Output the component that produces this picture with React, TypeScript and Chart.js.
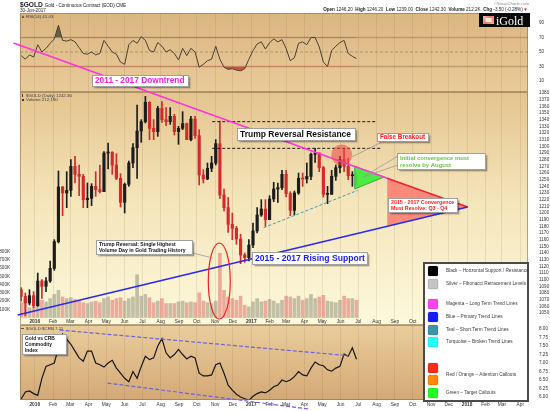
import React, { useEffect, useRef } from 'react';
import { Chart, registerables } from 'chart.js';

Chart.register(...registerables);

// ---------- DATA ----------
const weeks = [
  '2015-12-07', '2015-12-14', '2015-12-21', '2015-12-28',
  '2016-01-04', '2016-01-11', '2016-01-18', '2016-01-25',
  '2016-02-01', '2016-02-08', '2016-02-15', '2016-02-22', '2016-02-29',
  '2016-03-07', '2016-03-14', '2016-03-21', '2016-03-28',
  '2016-04-04', '2016-04-11', '2016-04-18', '2016-04-25',
  '2016-05-02', '2016-05-09', '2016-05-16', '2016-05-23', '2016-05-30',
  '2016-06-06', '2016-06-13', '2016-06-20', '2016-06-27',
  '2016-07-04', '2016-07-11', '2016-07-18', '2016-07-25',
  '2016-08-01', '2016-08-08', '2016-08-15', '2016-08-22', '2016-08-29',
  '2016-09-05', '2016-09-12', '2016-09-19', '2016-09-26',
  '2016-10-03', '2016-10-10', '2016-10-17', '2016-10-24', '2016-10-31',
  '2016-11-07', '2016-11-14', '2016-11-21', '2016-11-28',
  '2016-12-05', '2016-12-12', '2016-12-19', '2016-12-26',
  '2017-01-02', '2017-01-09', '2017-01-16', '2017-01-23', '2017-01-30',
  '2017-02-06', '2017-02-13', '2017-02-20', '2017-02-27',
  '2017-03-06', '2017-03-13', '2017-03-20', '2017-03-27',
  '2017-04-03', '2017-04-10', '2017-04-17', '2017-04-24',
  '2017-05-01', '2017-05-08', '2017-05-15', '2017-05-22', '2017-05-29',
  '2017-06-05', '2017-06-12', '2017-06-19', '2017-06-26',
];

const priceOpen = [
  1085, 1075, 1065, 1076,
  1061, 1098, 1090, 1098,
  1117, 1157, 1239, 1230, 1234,
  1270, 1258, 1255, 1220,
  1222, 1240, 1235, 1232,
  1290, 1291, 1272, 1252, 1216,
  1243, 1275, 1298, 1323,
  1337, 1366, 1327, 1322,
  1357, 1340, 1337, 1345, 1322,
  1327, 1334, 1310, 1341,
  1316, 1257, 1251, 1267, 1275,
  1304, 1227, 1208, 1183,
  1177, 1161, 1137, 1133,
  1152, 1173, 1197, 1206, 1190,
  1221, 1236, 1238, 1258,
  1229, 1204, 1230, 1252,
  1251, 1255, 1288, 1290,
  1268, 1228, 1228, 1255, 1268,
  1280, 1270, 1256, 1257,
];
const priceHigh = [
  1088, 1080, 1085, 1082,
  1110, 1100, 1103, 1128,
  1160, 1263, 1240, 1262, 1280,
  1285, 1272, 1258, 1245,
  1244, 1262, 1272, 1292,
  1305, 1292, 1289, 1259, 1245,
  1278, 1304, 1362, 1340,
  1375, 1367, 1340, 1360,
  1367, 1358, 1358, 1348, 1330,
  1352, 1335, 1345, 1345,
  1325, 1265, 1275, 1285, 1310,
  1338, 1236, 1223, 1200,
  1180, 1168, 1140, 1160,
  1185, 1208, 1220, 1220, 1226,
  1246, 1245, 1264, 1264,
  1232, 1233, 1260, 1260,
  1275, 1290, 1297, 1290,
  1270, 1240, 1264, 1272, 1285,
  1297, 1282, 1262, 1260,
];
const priceLow = [
  1068, 1046, 1062, 1058,
  1060, 1072, 1082, 1096,
  1114, 1155, 1196, 1208, 1225,
  1245, 1226, 1208, 1208,
  1211, 1225, 1230, 1232,
  1266, 1258, 1250, 1209, 1200,
  1240, 1268, 1252, 1306,
  1335, 1310, 1310, 1315,
  1336, 1331, 1333, 1317, 1303,
  1325, 1310, 1308, 1312,
  1242, 1245, 1250, 1262, 1272,
  1222, 1203, 1171, 1160,
  1153, 1124, 1126, 1128,
  1148, 1170, 1195, 1180, 1190,
  1217, 1216, 1235, 1224,
  1196, 1197, 1228, 1240,
  1245, 1250, 1276, 1262,
  1224, 1214, 1228, 1249, 1260,
  1262, 1250, 1240, 1239,
];
const priceClose = [
  1075, 1065, 1076, 1061,
  1098, 1090, 1098, 1117,
  1157, 1239, 1230, 1234, 1270,
  1258, 1255, 1220, 1222,
  1240, 1235, 1232, 1290,
  1291, 1272, 1252, 1216, 1243,
  1275, 1298, 1323, 1337,
  1366, 1327, 1322, 1357,
  1340, 1337, 1345, 1322, 1327,
  1334, 1310, 1341, 1316,
  1257, 1251, 1267, 1275, 1304,
  1227, 1208, 1183, 1177,
  1161, 1137, 1133, 1152,
  1173, 1197, 1206, 1190, 1221,
  1236, 1238, 1258, 1229,
  1204, 1230, 1252, 1251,
  1255, 1288, 1290, 1268,
  1228, 1228, 1255, 1268, 1280,
  1270, 1256, 1257, 1242,
];
// average daily volume, thousands of contracts
const volumeK = [
  180, 220, 120, 130,
  200, 210, 190, 230,
  280, 330, 250, 230, 240,
  220, 200, 180, 170,
  190, 200, 180, 230,
  250, 210, 230, 240, 200,
  230, 250, 520, 260,
  280, 240, 180, 200,
  230, 170, 170, 170, 190,
  200, 180, 190, 180,
  300, 200, 180, 170, 200,
  780, 330, 250, 230,
  210, 260, 150, 130,
  190, 230, 190, 200, 220,
  200, 170, 210, 260,
  250, 230, 260, 210,
  230, 280, 230, 250,
  270, 200, 190, 180, 210,
  260, 230, 230, 210,
];
const rsi14 = [
  45, 40, 46, 43,
  60, 50, 55, 62,
  68, 87, 66, 65, 67,
  64, 56, 48, 47,
  50, 46, 48, 66,
  58, 50, 47, 36, 33,
  60, 66, 62, 71,
  66, 52, 50, 63,
  58, 50, 53, 48, 39,
  55, 45, 55, 50,
  29, 33, 38, 40, 58,
  40, 29, 26, 27,
  25, 24, 27, 40,
  52, 61, 64, 54, 63,
  68, 64, 67, 55,
  38, 42, 62, 64,
  60, 70, 70, 57,
  36, 30, 52, 58, 63,
  66, 48, 44, 41,
];
const goldCrbRatio = [
  5.94, 6.15, 6.18, 6.10,
  6.05, 6.55, 6.90, 6.95,
  7.00, 7.45, 7.85, 7.70, 7.55,
  7.35, 7.15, 7.05, 7.35,
  7.35, 7.00, 6.95, 6.88,
  7.00, 7.08, 6.85, 6.70, 6.55,
  6.45, 6.75, 6.55, 6.90,
  7.20, 7.10, 7.15, 7.50,
  7.72, 7.30, 7.15, 7.25, 7.40,
  7.25, 7.12, 7.20, 7.15,
  6.70, 6.62, 6.62, 6.65, 6.95,
  7.00, 6.70, 6.35, 6.20,
  6.08, 6.00, 5.95, 5.90,
  6.02, 6.10, 6.15, 6.12, 6.20,
  6.30, 6.35, 6.50, 6.45,
  6.50, 6.60, 6.75, 6.65,
  6.62, 6.85, 7.03, 6.95,
  6.92, 6.80, 6.76, 6.85, 6.90,
  7.26, 7.20, 7.45, 7.11,
];

const monthTicks = [
  '2016-01-01', '2016-02-01', '2016-03-01', '2016-04-01', '2016-05-01', '2016-06-01',
  '2016-07-01', '2016-08-01', '2016-09-01', '2016-10-01', '2016-11-01', '2016-12-01',
  '2017-01-01', '2017-02-01', '2017-03-01', '2017-04-01', '2017-05-01', '2017-06-01',
  '2017-07-01', '2017-08-01', '2017-09-01', '2017-10-01', '2017-11-01', '2017-12-01',
  '2018-01-01', '2018-02-01', '2018-03-01', '2018-04-01',
];
const monthLabels = [
  '2016', 'Feb', 'Mar', 'Apr', 'May', 'Jun', 'Jul', 'Aug', 'Sep', 'Oct', 'Nov', 'Dec',
  '2017', 'Feb', 'Mar', 'Apr', 'May', 'Jun', 'Jul', 'Aug', 'Sep', 'Oct', 'Nov', 'Dec',
  '2018', 'Feb', 'Mar', 'Apr',
];
const rsiTicks = [90, 70, 50, 30, 10];
const priceTicks = [
  1380, 1370, 1360, 1350, 1340, 1330, 1320, 1310, 1300, 1290, 1280, 1270, 1260, 1250,
  1240, 1230, 1220, 1210, 1200, 1190, 1180, 1170, 1160, 1150, 1140, 1130, 1120, 1110,
  1100, 1090, 1080, 1070, 1060, 1050,
];
const volTicks = [100, 200, 300, 400, 500, 600, 700, 800];
const volTickLabels = ['100K', '200K', '300K', '400K', '500K', '600K', '700K', '800K'];
const ratioTicks = [8.0, 7.75, 7.5, 7.25, 7.0, 6.75, 6.5, 6.25, 6.0];
const ratioTickLabels = ['8.00', '7.75', '7.50', '7.25', '7.00', '6.75', '6.50', '6.25', '6.00'];

// ---------- ANNOTATIONS (date, value) ----------
const downtrendLine: [string, number][] = [['2015-11-26', 1455], ['2017-08-19', 1252]];
const convergenceTop: [string, number][] = [['2017-08-19', 1252], ['2018-01-02', 1209]];
const risingSupport: [string, number][] = [['2015-12-03', 1047], ['2018-01-02', 1209]];
const shortTermTrend: [string, number][] = [['2017-01-22', 1178], ['2017-06-30', 1234]];
const resistanceLines = [
  { from: '2016-10-27', to: '2017-08-02', price: 1337 },
  { from: '2016-10-27', to: '2017-08-09', price: 1297 },
];
const greenTriangle: [string, number][] = [['2017-06-25', 1270], ['2017-06-25', 1236], ['2017-08-14', 1254]];
const redTriangle: [string, number][] = [['2017-08-19', 1252], ['2017-08-19', 1180.5], ['2018-01-02', 1209]];
const falseBreakoutCircle: [string, number] = ['2017-06-03', 1287];
const volumeEllipse: [string, number] = ['2016-11-08', 444];
const ratioChannelTop: [string, number][] = [['2016-02-12', 7.97], ['2017-06-14', 7.215]];
const ratioChannelBottom: [string, number][] = [['2016-05-03', 6.41], ['2017-04-07', 5.65]];

type Callout = {
  at: [string, number]; axis: string; w: number; h: number;
  lines: string[]; color: string; size: number;
};
const callouts: Callout[] = [
  { at: ['2016-06-28', 1398], axis: 'yPrice', w: 97, h: 12, lines: ['2011 - 2017 Downtrend'], color: '#f020e0', size: 8.3 },
  { at: ['2017-03-19', 1318.5], axis: 'yPrice', w: 119, h: 13, lines: ['Trump Reversal Resistance'], color: '#111111', size: 8.5 },
  { at: ['2017-09-15', 1313], axis: 'yPrice', w: 52, h: 9, lines: ['False Breakout'], color: '#ff1a1a', size: 6.3 },
  { at: ['2017-11-19', 1277], axis: 'yPrice', w: 89, h: 17, lines: ['Initial convergence must', 'resolve by August'], color: '#6cc24a', size: 5.9 },
  { at: ['2017-10-18', 1212], axis: 'yPrice', w: 70, h: 15, lines: ['2015 - 2017 Convergence', 'Must Resolve: Q3 - Q4'], color: '#ff1a1a', size: 5.3 },
  { at: ['2017-04-10', 1132], axis: 'yPrice', w: 116, h: 13, lines: ['2015 - 2017 Rising Support'], color: '#1a1aee', size: 8.6 },
  { at: ['2016-07-04', 1149], axis: 'yPrice', w: 97, h: 15, lines: ['Trump Reversal: Single Highest', 'Volume Day in Gold Trading History'], color: '#111111', size: 5.1 },
  { at: ['2016-01-18', 7.53], axis: 'yRatio', w: 45, h: 21, lines: ['Gold vs CRB', 'Commodity', 'Index'], color: '#111111', size: 4.9 },
];
const connectors: [string, number][][] = [
  [['2017-08-10', 1306.5], ['2017-06-20', 1284]],
  [['2017-09-06', 1285.5], ['2017-07-09', 1254], ['2017-09-06', 1272]],
  [['2016-09-24', 1140], ['2016-10-28', 1132.5]],
];
const legendItems: [string, string, number][] = [
  ['#000000', 'Black \u2013 Horizontal Support / Resistance', 9],
  ['#c4c4c4', 'Silver \u2013 Fibonacci Retracement Levels', 22],
  ['#ff44ee', 'Magenta \u2013 Long Term Trend Lines', 42],
  ['#1a1aff', 'Blue \u2013 Primary Trend Lines', 55],
  ['#3a97a3', 'Teal \u2013 Short Term Trend Lines', 68],
  ['#22ffff', 'Turquoise \u2013 Broken Trend Lines', 80],
  ['#ff2a1a', '', 106],
  ['#ff8c00', '', 118],
  ['#22ff22', 'Green \u2013 Target Callouts', 131],
];
const legendMidText: [string, number] = ['Red / Orange \u2013 Attention Callouts', 113];

// ---------- HELPERS ----------
const DAY0 = Date.UTC(2016, 0, 1);
function toDay(s: string): number {
  const [y, m, d] = s.split('-').map(Number);
  return (Date.UTC(y, m - 1, d) - DAY0) / 86400000;
}
const weekX = weeks.map((w) => toDay(w) + 2);
const monthTickDays = monthTicks.map(toDay);

const ARIAL = '"Liberation Sans", Arial, sans-serif';
const SERIF = '"Liberation Serif", "DejaVu Serif", serif';

function pt(chart: any, p: [string, number], axis = 'yPrice'): [number, number] {
  return [chart.scales.x.getPixelForValue(toDay(p[0])), chart.scales[axis].getPixelForValue(p[1])];
}
function poly(ctx: CanvasRenderingContext2D, pts: [number, number][]) {
  ctx.beginPath();
  pts.forEach(([x, y], i) => (i ? ctx.lineTo(x, y) : ctx.moveTo(x, y)));
}

const overlayPlugin = {
  id: 'overlay',
  beforeDraw(chart: any) {
    const { ctx, chartArea: a, scales } = chart;
    const w = a.right - a.left;
    const yR = scales.yRsi, yP = scales.yPrice, yC = scales.yRatio;
    ctx.save();
    ctx.fillStyle = '#ffffff';
    ctx.fillRect(0, 0, chart.width, chart.height);
    let g = ctx.createLinearGradient(0, yR.top, 0, yR.bottom);
    g.addColorStop(0, '#dbb681');
    g.addColorStop(1, '#e9cb99');
    ctx.fillStyle = g;
    ctx.fillRect(a.left, yR.top, w, yR.bottom - yR.top);
    g = ctx.createLinearGradient(0, yP.top, 0, yP.bottom);
    g.addColorStop(0, '#e4c48e');
    g.addColorStop(0.45, '#f4e4b9');
    g.addColorStop(1, '#fdf9dc');
    ctx.fillStyle = g;
    ctx.fillRect(a.left, yP.top, w, yP.bottom - yP.top);
    g = ctx.createLinearGradient(0, yC.top, 0, yC.bottom);
    g.addColorStop(0, '#eacd9c');
    g.addColorStop(1, '#d3a975');
    ctx.fillStyle = g;
    ctx.fillRect(a.left, yC.top, w, yC.bottom - yC.top);
    // RSI reference lines
    ctx.strokeStyle = 'rgba(160,125,80,0.55)';
    ctx.lineWidth = 1.5;
    [70, 30].forEach((v) => {
      const y = yR.getPixelForValue(v);
      ctx.beginPath(); ctx.moveTo(a.left, y); ctx.lineTo(a.right, y); ctx.stroke();
    });
    ctx.setLineDash([3, 2]);
    ctx.lineWidth = 0.8;
    ctx.strokeStyle = 'rgba(120,105,85,0.6)';
    const y50 = yR.getPixelForValue(50);
    ctx.beginPath(); ctx.moveTo(a.left, y50); ctx.lineTo(a.right, y50); ctx.stroke();
    ctx.restore();
  },
  afterDatasetsDraw(chart: any) {
    const { ctx, chartArea: a, scales } = chart;
    const yR = scales.yRsi, yP = scales.yPrice, yC = scales.yRatio;
    ctx.save();
    // panel borders
    ctx.strokeStyle = 'rgba(140,110,70,0.6)';
    ctx.lineWidth = 1;
    [yR, yP, yC].forEach((s: any) => ctx.strokeRect(a.left + 0.5, s.top + 0.5, a.right - a.left - 1, s.bottom - s.top - 1));

    // month labels inside main panel
    ctx.fillStyle = '#333';
    ctx.textAlign = 'center';
    ctx.textBaseline = 'middle';
    monthTickDays.forEach((d, i) => {
      const x = scales.x.getPixelForValue(d);
      const year = /^\d{4}$/.test(monthLabels[i]);
      ctx.font = `${year ? 'bold ' : ''}4.8px ${ARIAL}`;
      ctx.fillText(monthLabels[i], x, yP.bottom - 3.5);
    });

    // triangles
    ctx.fillStyle = 'rgba(250,115,105,0.8)';
    poly(ctx, redTriangle.map((p) => pt(chart, p)));
    ctx.closePath(); ctx.fill();
    ctx.fillStyle = 'rgba(60,235,60,0.92)';
    ctx.strokeStyle = '#2f9a2f';
    ctx.lineWidth = 0.8;
    poly(ctx, greenTriangle.map((p) => pt(chart, p)));
    ctx.closePath(); ctx.fill(); ctx.stroke();

    // resistance dashed lines
    ctx.setLineDash([3, 2]);
    ctx.strokeStyle = '#1a1a1a';
    ctx.lineWidth = 1;
    resistanceLines.forEach((r) => {
      poly(ctx, [pt(chart, [r.from, r.price]), pt(chart, [r.to, r.price])]);
      ctx.stroke();
    });
    // short term teal
    ctx.strokeStyle = '#3a9fb0';
    poly(ctx, shortTermTrend.map((p) => pt(chart, p)));
    ctx.stroke();
    // ratio channel
    ctx.strokeStyle = '#6c62e4';
    ctx.lineWidth = 1.2;
    ctx.setLineDash([4, 2]);
    poly(ctx, ratioChannelTop.map((p) => pt(chart, p, 'yRatio')));
    ctx.stroke();
    poly(ctx, ratioChannelBottom.map((p) => pt(chart, p, 'yRatio')));
    ctx.stroke();
    ctx.setLineDash([]);

    // trend lines
    ctx.lineWidth = 1.6;
    ctx.strokeStyle = '#ff33dd';
    poly(ctx, downtrendLine.map((p) => pt(chart, p)));
    ctx.stroke();
    ctx.strokeStyle = '#ee2236';
    poly(ctx, convergenceTop.map((p) => pt(chart, p)));
    ctx.stroke();
    ctx.strokeStyle = '#2a2aee';
    poly(ctx, risingSupport.map((p) => pt(chart, p)));
    ctx.stroke();

    // false breakout circle
    const [cx, cy] = pt(chart, falseBreakoutCircle);
    ctx.fillStyle = 'rgba(238,70,70,0.55)';
    ctx.beginPath(); ctx.arc(cx, cy, 10.5, 0, Math.PI * 2); ctx.fill();

    // volume ellipse
    const [ex, ey] = pt(chart, volumeEllipse, 'yVol');
    ctx.strokeStyle = '#ee2020';
    ctx.lineWidth = 1.2;
    ctx.beginPath(); ctx.ellipse(ex, ey, 11, 38, 0, 0, Math.PI * 2); ctx.stroke();

    // connectors
    ctx.strokeStyle = '#9a9a9a';
    ctx.lineWidth = 0.8;
    connectors.forEach((c) => { poly(ctx, c.map((p) => pt(chart, p))); ctx.stroke(); });

    // callout boxes
    callouts.forEach((c) => {
      const [x0, y0] = pt(chart, c.at, c.axis);
      const bx = Math.round(x0 - c.w / 2), by = Math.round(y0 - c.h / 2);
      ctx.save();
      ctx.shadowColor = 'rgba(0,0,0,0.35)';
      ctx.shadowOffsetX = 1.5; ctx.shadowOffsetY = 1.5; ctx.shadowBlur = 1.5;
      ctx.fillStyle = '#ffffff';
      ctx.fillRect(bx, by, c.w, c.h);
      ctx.restore();
      ctx.strokeStyle = '#a0a0a0';
      ctx.lineWidth = 1;
      ctx.strokeRect(bx + 0.5, by + 0.5, c.w - 1, c.h - 1);
      ctx.fillStyle = c.color;
      ctx.font = `bold ${c.size}px ${ARIAL}`;
      ctx.textAlign = 'left';
      ctx.textBaseline = 'middle';
      const lh = c.size * 1.18;
      const top = by + c.h / 2 - (lh * (c.lines.length - 1)) / 2;
      c.lines.forEach((t, i) => ctx.fillText(t, bx + 3, top + i * lh));
    });

    // legend
    const lx = a.right - 105, ly = a.bottom - 138;
    ctx.fillStyle = '#ffffff';
    ctx.fillRect(lx, ly, 106, 140);
    ctx.strokeStyle = '#4a4a4a';
    ctx.lineWidth = 2;
    ctx.strokeRect(lx + 1, ly + 1, 104, 138);
    legendItems.forEach(([col, text, off]) => {
      ctx.fillStyle = col;
      ctx.beginPath();
      (ctx as any).roundRect ? (ctx as any).roundRect(lx + 5, ly + off - 5, 10, 10, 1.5) : ctx.rect(lx + 5, ly + off - 5, 10, 10);
      ctx.fill();
      ctx.strokeStyle = 'rgba(0,0,0,0.25)';
      ctx.lineWidth = 0.5;
      ctx.stroke();
      if (text) {
        ctx.fillStyle = '#3a3a3a';
        ctx.font = `4.7px ${ARIAL}`;
        ctx.textAlign = 'left';
        ctx.textBaseline = 'middle';
        ctx.fillText(text, lx + 23, ly + off);
      }
    });
    ctx.fillStyle = '#3a3a3a';
    ctx.font = `4.7px ${ARIAL}`;
    ctx.fillText(legendMidText[0], lx + 23, ly + legendMidText[1]);
    ctx.restore();
  },
  afterDraw(chart: any) {
    const { ctx, chartArea: a, scales } = chart;
    const yR = scales.yRsi, yP = scales.yPrice, yC = scales.yRatio;
    ctx.save();
    ctx.textBaseline = 'alphabetic';
    ctx.textAlign = 'left';
    ctx.fillStyle = '#222';
    ctx.font = `bold 6.6px ${ARIAL}`;
    ctx.fillText('$GOLD', 20, 7);
    const gw = ctx.measureText('$GOLD').width;
    ctx.font = `4.6px ${ARIAL}`;
    ctx.fillText('Gold - Continuous Contract (EOD) CME', 20 + gw + 2, 7);
    ctx.fillText('30-Jun-2017', 20, 12);
    ctx.fillStyle = '#8a8a8a';
    ctx.font = `4.2px ${ARIAL}`;
    ctx.textAlign = 'right';
    ctx.fillText('\u00a9StockCharts.com', a.right + 1, 5);
    // OHLC line
    const segs: [string, boolean][] = [
      ['Open', true], [' 1246.20  ', false], ['High', true], [' 1246.20  ', false],
      ['Low', true], [' 1239.00  ', false], ['Close', true], [' 1242.30  ', false],
      ['Volume', true], [' 212.2K  ', false], ['Chg', true], [' -3.50 (-0.28%) ', false],
    ];
    let total = 0;
    segs.forEach(([t, b]) => { ctx.font = `${b ? 'bold ' : ''}4.6px ${ARIAL}`; total += ctx.measureText(t).width; });
    let x = a.right - 4 - total;
    ctx.textAlign = 'left';
    ctx.fillStyle = '#222';
    segs.forEach(([t, b]) => {
      ctx.font = `${b ? 'bold ' : ''}4.6px ${ARIAL}`;
      ctx.fillText(t, x, 11);
      x += ctx.measureText(t).width;
    });
    ctx.fillStyle = '#e02020';
    ctx.beginPath(); ctx.moveTo(x, 8.5); ctx.lineTo(x + 3, 8.5); ctx.lineTo(x + 1.5, 11); ctx.closePath(); ctx.fill();

    // iGold logo
    const lx = a.right - 49, ly = yR.top;
    ctx.fillStyle = '#0a0a0a';
    ctx.fillRect(lx, ly, 51, 14);
    const lg = ctx.createLinearGradient(lx + 4, ly + 3, lx + 14, ly + 11);
    lg.addColorStop(0, '#f6c8b0');
    lg.addColorStop(0.5, '#e07a6a');
    lg.addColorStop(1, '#f4b49a');
    ctx.fillStyle = lg;
    ctx.fillRect(lx + 4, ly + 3, 11, 8);
    ctx.fillStyle = '#fbe6da';
    ctx.fillRect(lx + 6.5, ly + 5, 6, 4);
    ctx.fillStyle = '#ffffff';
    ctx.font = `12px ${SERIF}`;
    ctx.fillText('iGold', lx + 17, ly + 11.5);

    // panel titles
    ctx.fillStyle = '#3a3a3a';
    ctx.font = `4.4px ${ARIAL}`;
    ctx.fillText('RSI(14) 41.03', a.left + 6, yR.top + 4.5);
    ctx.fillStyle = '#555';
    ctx.beginPath(); ctx.moveTo(a.left + 1.5, yR.top + 5); ctx.lineTo(a.left + 3, yR.top + 2); ctx.lineTo(a.left + 4.5, yR.top + 5); ctx.closePath(); ctx.fill();
    ctx.fillStyle = '#3a3a3a';
    ctx.fillText('$GOLD (Daily) 1242.30', a.left + 6, yP.top + 4.5);
    ctx.fillText('Volume 212,190', a.left + 6, yP.top + 9);
    ctx.fillRect(a.left + 2, yP.top + 2, 1, 3);
    ctx.fillRect(a.left + 2, yP.top + 7, 2, 2);
    ctx.fillRect(a.left + 1, yC.top + 3, 3, 0.8);
    ctx.fillText('$GOLD:$CRB 7.11', a.left + 6, yC.top + 4.5);
    ctx.restore();
  },
};

export default function App() {
  const ref = useRef<HTMLCanvasElement>(null);
  useEffect(() => {
    document.body.style.margin = '0';
    const isDown = priceClose.map((c, i) => c < priceOpen[i]);
    const candleColor = isDown.map((d) => (d ? '#d42a2a' : '#1c1c1c'));
    const volColor = isDown.map((d) => (d ? 'rgba(222,95,95,0.5)' : 'rgba(125,125,105,0.45)'));
    const tickFont = { family: ARIAL, size: 4.6 };
    const config: any = {
      type: 'bar',
      data: {
        datasets: [
          {
            type: 'bar', label: 'Range', yAxisID: 'yPrice', order: 2, grouped: false,
            data: weekX.map((x, i) => ({ x, y: [priceLow[i], priceHigh[i]] })),
            backgroundColor: candleColor, barThickness: 1,
          },
          {
            type: 'bar', label: 'Body', yAxisID: 'yPrice', order: 1, grouped: false,
            data: weekX.map((x, i) => ({ x, y: [priceOpen[i], priceClose[i]] })),
            backgroundColor: candleColor, barThickness: 2.5, minBarLength: 1,
          },
          {
            type: 'bar', label: 'Volume', yAxisID: 'yVol', order: 6, grouped: false,
            data: weekX.map((x, i) => ({ x, y: volumeK[i] })),
            backgroundColor: volColor, barThickness: 3,
          },
          {
            type: 'line', label: 'RSI', yAxisID: 'yRsi', order: 3,
            data: weekX.map((x, i) => ({ x, y: rsi14[i] })),
            borderColor: '#4a4236', borderWidth: 1, pointRadius: 0, tension: 0,
            fill: { target: { value: 70 }, above: 'rgba(70,72,50,0.8)', below: 'rgba(0,0,0,0)' },
          },
          {
            type: 'line', label: 'RSI<30', yAxisID: 'yRsi', order: 4,
            data: weekX.map((x, i) => ({ x, y: rsi14[i] })),
            borderColor: 'rgba(0,0,0,0)', borderWidth: 0, pointRadius: 0, tension: 0,
            fill: { target: { value: 30 }, above: 'rgba(0,0,0,0)', below: 'rgba(200,40,40,0.75)' },
          },
          {
            type: 'line', label: 'Gold:CRB', yAxisID: 'yRatio', order: 3,
            data: weekX.map((x, i) => ({ x, y: goldCrbRatio[i] })),
            borderColor: '#161616', borderWidth: 1.2, pointRadius: 0, tension: 0,
          },
        ],
      },
      options: {
        responsive: false,
        animation: false,
        events: [],
        layout: { padding: { top: 13, left: 0, right: 0, bottom: 0 } },
        plugins: { legend: { display: false }, tooltip: { enabled: false } },
        scales: {
          x: {
            type: 'linear', position: 'bottom', min: -25, max: 834, offset: false,
            afterFit: (s: any) => { s.height = 11; },
            afterBuildTicks: (s: any) => { s.ticks = monthTickDays.map((v) => ({ value: v })); },
            ticks: {
              autoSkip: false, maxRotation: 0, padding: 2, color: '#333',
              font: (c: any) => ({ family: ARIAL, size: 4.8, weight: c.index === 0 || c.index === 12 || c.index === 24 ? 'bold' : 'normal' }),
              callback: (_v: any, i: number) => monthLabels[i],
            },
            grid: { color: 'rgba(120,95,60,0.13)', drawTicks: false, offset: false },
            border: { display: false },
          },
          yRsi: {
            type: 'linear', position: 'right', stack: 'panels', stackWeight: 79,
            min: -5.2, max: 103.8,
            afterFit: (s: any) => { s.width = 22; },
            afterBuildTicks: (s: any) => { s.ticks = rsiTicks.map((v) => ({ value: v })); },
            ticks: { autoSkip: false, padding: 3, color: '#333', font: tickFont },
            grid: { display: false }, border: { display: false },
          },
          yPrice: {
            type: 'linear', position: 'right', stack: 'panels', stackWeight: 233,
            min: 1032, max: 1381.5,
            afterFit: (s: any) => { s.width = 22; },
            afterBuildTicks: (s: any) => { s.ticks = priceTicks.map((v) => ({ value: v })); },
            ticks: { autoSkip: false, padding: 3, color: '#333', font: tickFont, callback: (v: any) => String(v) },
            grid: { display: false }, border: { display: false },
          },
          yRatio: {
            type: 'linear', position: 'right', stack: 'panels', stackWeight: 75,
            min: 5.912, max: 8.118,
            afterFit: (s: any) => { s.width = 22; },
            afterBuildTicks: (s: any) => { s.ticks = ratioTicks.map((v) => ({ value: v })); },
            ticks: { autoSkip: false, padding: 3, color: '#333', font: tickFont, callback: (_v: any, i: number) => ratioTickLabels[i] },
            grid: { display: false }, border: { display: false },
          },
          yVol: {
            type: 'linear', position: 'left', min: -1002, max: 3700,
            afterFit: (s: any) => { s.width = 20; },
            afterBuildTicks: (s: any) => { s.ticks = volTicks.map((v) => ({ value: v })); },
            ticks: { autoSkip: false, padding: 2, color: '#333', font: tickFont, callback: (_v: any, i: number) => volTickLabels[i] },
            grid: { display: false }, border: { display: false },
          },
        },
      },
      plugins: [overlayPlugin],
    };
    const chart = new Chart(ref.current as HTMLCanvasElement, config);
    return () => chart.destroy();
  }, []);
  return (
    <div style={{ width: 550, height: 411 }}>
      <canvas ref={ref} width={550} height={411} style={{ display: 'block' }} />
    </div>
  );
}
